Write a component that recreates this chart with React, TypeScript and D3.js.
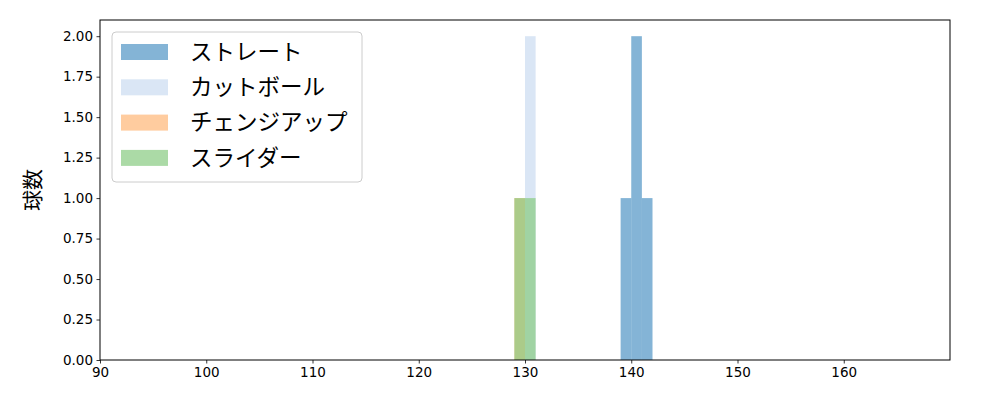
import React, { useEffect, useRef } from 'react';
import * as d3 from 'd3';

// histogram bins (left edge, width 1) and counts per pitch type
const straightBins = [139, 140, 141];
const straightCounts = [1, 2, 1];
const cutBins = [130];
const cutCounts = [2];
const changeupBins = [129];
const changeupCounts = [1];
const sliderBins = [129, 130];
const sliderCounts = [1, 1];

const pitchNames = ['ストレート', 'カットボール', 'チェンジアップ', 'スライダー'];
const pitchColors = ['#1f77b4', '#aec7e8', '#ff7f0e', '#88ca80'];
const pitchOpacity = [0.55, 0.45, 0.4, 0.7];

const xTicks = [90, 100, 110, 120, 130, 140, 150, 160];
const yTicks = [0, 0.25, 0.5, 0.75, 1.0, 1.25, 1.5, 1.75, 2.0];

const FONT = '"DejaVu Sans", "Noto Sans CJK JP", sans-serif';
const JP_FONT = '"Noto Sans CJK JP", sans-serif';

export default function App() {
  const svgRef = useRef<SVGSVGElement>(null);

  useEffect(() => {
    document.body.style.margin = '0';
    if (!svgRef.current) return;
    const svg = d3.select(svgRef.current);
    svg.selectAll('*').remove();

    const margin = { top: 20, right: 50, bottom: 40, left: 100 };
    const width = 1000 - margin.left - margin.right;
    const height = 400 - margin.top - margin.bottom;

    const x = d3.scaleLinear().domain([90, 170]).range([0, width]);
    const y = d3.scaleLinear().domain([0, 2.1]).range([height, 0]);

    const g = svg
      .append('g')
      .attr('transform', `translate(${margin.left},${margin.top})`);

    const series = [
      { bins: straightBins, counts: straightCounts },
      { bins: cutBins, counts: cutCounts },
      { bins: changeupBins, counts: changeupCounts },
      { bins: sliderBins, counts: sliderCounts },
    ];

    series.forEach((s, i) => {
      g.selectAll(`.bar-${i}`)
        .data(s.bins.map((b, j) => ({ b, c: s.counts[j] })))
        .enter()
        .append('rect')
        .attr('x', (d) => x(d.b))
        .attr('y', (d) => y(d.c))
        .attr('width', (d) => x(d.b + 1) - x(d.b))
        .attr('height', (d) => y(0) - y(d.c))
        .attr('fill', pitchColors[i])
        .attr('fill-opacity', pitchOpacity[i]);
    });

    // axes
    const xAxis = g
      .append('g')
      .attr('transform', `translate(0,${height})`)
      .call(d3.axisBottom(x).tickValues(xTicks).tickSize(3.5).tickPadding(3.5));
    const yAxis = g
      .append('g')
      .call(
        d3
          .axisLeft(y)
          .tickValues(yTicks)
          .tickFormat(d3.format('.2f'))
          .tickSize(3.5)
          .tickPadding(3.5)
      );
    [xAxis, yAxis].forEach((a) => {
      a.select('.domain').remove();
      a.selectAll('text')
        .attr('font-family', FONT)
        .attr('font-size', '13.5px')
        .attr('fill', '#000');
      a.selectAll('line').attr('stroke', '#000').attr('stroke-width', 0.8);
    });

    // frame
    g.append('rect')
      .attr('width', width)
      .attr('height', height)
      .attr('fill', 'none')
      .attr('stroke', '#000')
      .attr('stroke-width', 1);

    // y label
    g.append('text')
      .attr('transform', `translate(-67,${height / 2}) rotate(-90)`)
      .attr('text-anchor', 'middle')
      .attr('dy', '0.35em')
      .attr('font-family', JP_FONT)
      .attr('font-size', '21px')
      .text('球数');

    // legend
    const legend = svg.append('g').attr('transform', 'translate(112,32)');
    legend
      .append('rect')
      .attr('width', 250)
      .attr('height', 150)
      .attr('rx', 4)
      .attr('fill', '#fff')
      .attr('fill-opacity', 0.8)
      .attr('stroke', '#cccccc');
    pitchNames.forEach((name, i) => {
      const cy = 20 + i * 35.3;
      legend
        .append('rect')
        .attr('x', 9)
        .attr('y', cy - 8)
        .attr('width', 47)
        .attr('height', 16)
        .attr('fill', pitchColors[i])
        .attr('fill-opacity', pitchOpacity[i]);
      legend
        .append('text')
        .attr('x', 78)
        .attr('y', cy)
        .attr('dy', '0.35em')
        .attr('font-family', JP_FONT)
        .attr('font-size', '22.5px')
        .text(name);
    });
  }, []);

  return <svg ref={svgRef} width={1000} height={400} style={{ display: 'block' }} />;
}
